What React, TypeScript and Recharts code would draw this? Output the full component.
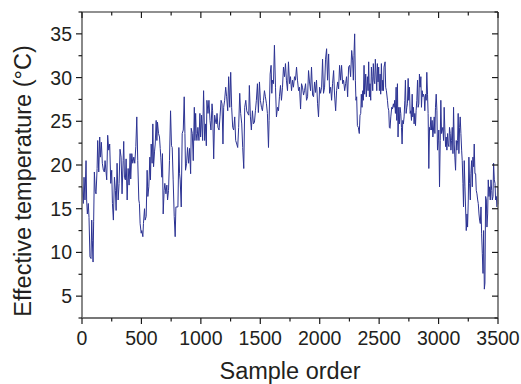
import React from "react";
import { Line, LineChart, XAxis, YAxis } from "recharts";

// readings taken off the trace: [sample order, effective temperature]
const earlySamples: [number, number][] = [
  [0, 17.5], [11, 15.6], [17, 18.6], [25, 16], [34, 20.5], [39, 16], [45, 14.4], [53, 15.6], [59, 14], [67, 9.5],
  [76, 9.3], [82, 13.7], [87, 11.4], [93, 8.9], [98, 13.5], [104, 19.2], [112, 17], [118, 16.7], [127, 19.6], [132, 22.8],
  [141, 19.2], [149, 23.2], [155, 20.9], [163, 22.6], [171, 20.2], [180, 19.4], [188, 19.2], [194, 20.5], [208, 18.3], [216, 23.4],
  [225, 21.7], [233, 22.4], [242, 17.9], [250, 19.4], [256, 15.6], [264, 13.7], [273, 18.6], [281, 17.1], [287, 14.8], [295, 20.2],
  [304, 16], [312, 17.9], [320, 21.8], [329, 20.9], [337, 16.7], [346, 20.5], [351, 22.7], [357, 18.6], [365, 18.3], [371, 20.7],
  [380, 16], [388, 19.6], [396, 17.7], [405, 21.3], [410, 18.4], [419, 21.3], [427, 20.2], [436, 20.9], [444, 20.2], [453, 22.1],
  [461, 25.5], [469, 20.5], [478, 16], [483, 15.6], [489, 13.3], [498, 12.2], [503, 12.5], [512, 11.8], [517, 13.3], [526, 15],
  [531, 13.7], [540, 14.1], [548, 19.4], [554, 16.4], [562, 17.5], [571, 20.9], [576, 18.3], [582, 22.4], [590, 20.2], [596, 24.7],
  [602, 19.8], [610, 21.5], [616, 22.4], [624, 25.1], [630, 22.8], [635, 24.9], [644, 23.6], [652, 23.2], [658, 21.9], [663, 20.9],
  [672, 18.6], [677, 21.3], [683, 14.4], [691, 17.1], [697, 17.9], [706, 16.7], [714, 17.7], [720, 16], [728, 17.1], [736, 20.5],
  [745, 26.2], [753, 22.2], [759, 22], [767, 18.3], [776, 14.1], [784, 11.8], [790, 15.2], [798, 15.2], [807, 15.2], [815, 22],
  [821, 19], [826, 18.3], [835, 15.2], [843, 23.6], [852, 24], [860, 27.8], [866, 23.6], [871, 19.4], [880, 20.2], [888, 22],
  [897, 20.2], [905, 21.9], [914, 19], [919, 24.2], [928, 23.6], [936, 20.5], [945, 26.6], [950, 22.8], [956, 25.9], [961, 23.6],
  [967, 22.8], [975, 24.3], [984, 22.8], [992, 25.9], [998, 23.2], [1006, 25.7], [1015, 22.8], [1023, 28.5], [1032, 22.8],
];

const middleSamples: [number, number][] = [
  [1040, 24.7], [1046, 22.2], [1051, 27.4], [1060, 25.9], [1068, 27.4], [1077, 25.1], [1085, 24], [1094, 27], [1099, 26.2], [1108, 20.7],
  [1116, 25.7], [1125, 24.9], [1130, 24.7], [1136, 25.9], [1144, 24.3], [1153, 24], [1161, 25.5], [1170, 27.4], [1178, 27], [1186, 22.4],
  [1192, 26.6], [1200, 27.4], [1209, 28.9], [1217, 27.8], [1226, 26.2], [1234, 30.1], [1243, 26.6], [1251, 30.6], [1259, 26.6], [1268, 24.3],
  [1276, 24], [1285, 25.5], [1293, 22.8], [1302, 22.4], [1310, 22], [1318, 24.3], [1327, 28.2], [1335, 25.9], [1344, 24.7], [1352, 22],
  [1361, 19.6], [1369, 26.6], [1378, 27.4], [1386, 26.2], [1394, 25.9], [1403, 25.7], [1408, 29.1], [1417, 25.5], [1425, 24], [1434, 26.2],
  [1442, 24.7], [1451, 24.9], [1459, 26.2], [1467, 27.4], [1476, 29.3], [1484, 26], [1493, 29.5], [1501, 27.4], [1510, 26.6], [1518, 26.2],
  [1527, 27.4], [1535, 28.5], [1543, 27.8], [1552, 27], [1560, 25.9], [1569, 22], [1574, 25.1], [1583, 30.4], [1591, 31.4], [1597, 28.2],
  [1602, 29.7], [1611, 29.3], [1619, 33.7], [1628, 28.9], [1636, 25.5], [1645, 26.6], [1653, 26.2], [1661, 27.8], [1670, 29.1], [1678, 27.4],
  [1687, 28.9], [1695, 31.2], [1704, 30.1], [1712, 31.6], [1720, 29.7], [1729, 28.5], [1737, 31.8], [1746, 29.3], [1754, 30.1], [1763, 28.5],
  [1771, 29.7], [1779, 28.9], [1788, 30.1], [1796, 29.7], [1805, 31.2], [1813, 29.7], [1822, 28.5], [1830, 28.9], [1839, 26.4], [1847, 29.3],
  [1855, 28.9], [1864, 28], [1872, 28.5], [1881, 29.3], [1889, 27.4], [1898, 27.8], [1906, 30.8], [1914, 29.5], [1923, 28.5], [1931, 31.2],
  [1940, 28], [1948, 27.8], [1957, 29.5], [1965, 28.3], [1973, 29.7], [1982, 27], [1990, 25.5], [1999, 28.9], [2007, 28.2], [2016, 28.9],
  [2024, 32.1], [2032, 28.2], [2041, 28.9], [2049, 32.1], [2058, 33.3], [2066, 29.7], [2075, 32.7], [2083, 28.2], [2092, 28.9], [2100, 27.4],
  [2108, 29.3], [2117, 30.8], [2125, 28], [2134, 26.2], [2142, 28.5], [2151, 29.5], [2159, 28.7], [2167, 31.4], [2176, 29.7], [2184, 31.4],
  [2193, 29.3], [2201, 29.7], [2210, 28.5], [2218, 29.3], [2226, 30.1], [2235, 27.8], [2243, 31.2], [2252, 31.4],
];

const lateSamples: [number, number][] = [
  [2260, 30.1], [2269, 33.1], [2277, 32], [2283, 29.7], [2288, 32.5], [2294, 35], [2300, 29.7], [2305, 27.4], [2311, 27.8], [2317, 24.5],
  [2325, 24.3], [2333, 23.6], [2339, 25.7], [2345, 25.9], [2350, 28.1], [2356, 26.6], [2362, 28.5], [2367, 27.4], [2373, 31.4], [2378, 28.1],
  [2387, 30.4], [2392, 27.8], [2401, 30.1], [2407, 28.5], [2412, 31.8], [2418, 27.8], [2423, 29.3], [2429, 27.4], [2435, 31.2], [2440, 30.1],
  [2446, 28.5], [2451, 31.6], [2457, 29.7], [2463, 29.3], [2468, 32.1], [2474, 30.4], [2480, 28.5], [2485, 31.6], [2491, 29.5], [2496, 31.2],
  [2502, 28.5], [2508, 30.4], [2513, 28.1], [2519, 31.6], [2525, 28.5], [2530, 29.7], [2536, 28.5], [2541, 31.2], [2550, 31.8], [2555, 28.9],
  [2561, 28.5], [2570, 27.4], [2575, 26.6], [2581, 26.2], [2586, 24.3], [2592, 24.2], [2598, 25.5], [2606, 26.6], [2612, 26.4], [2620, 27],
  [2626, 26.6], [2631, 27.4], [2637, 25.9], [2643, 28.9], [2648, 25.1], [2654, 29.3], [2659, 23.2], [2665, 26.6], [2671, 24.7], [2676, 26.6],
  [2682, 25.9], [2688, 24.3], [2693, 22.4], [2699, 25.1], [2704, 24.7], [2710, 25.5], [2716, 27.4], [2721, 29.7], [2727, 25.9], [2733, 26.6],
  [2738, 27], [2744, 29.9], [2749, 27.4], [2755, 28.9], [2761, 25.9], [2766, 26.2], [2772, 25.1], [2778, 28.1], [2783, 25.5], [2789, 26.6],
  [2794, 24.7], [2800, 25.9], [2806, 24.5], [2811, 26.2], [2817, 27.4], [2823, 29.7], [2828, 26.6], [2834, 27], [2839, 30.4], [2845, 28.9],
  [2851, 30.1], [2856, 26.6], [2862, 28.5], [2868, 27.8], [2873, 28.1], [2879, 27.8], [2884, 26.2], [2890, 28.1], [2896, 27.4], [2901, 30.6],
  [2907, 28.1], [2912, 25.9], [2918, 19.6], [2924, 24.3], [2929, 24], [2935, 25.5], [2941, 24], [2946, 25.1], [2952, 23.2], [2957, 24],
  [2963, 25.5], [2969, 23.6], [2974, 26.6], [2980, 28.1], [2986, 26.2], [2991, 21.7], [2997, 22.8], [3002, 24], [3008, 17.5], [3014, 22.8],
  [3019, 27.4], [3025, 23.6], [3031, 24], [3036, 24.3], [3042, 22.8], [3047, 26.6], [3053, 24], [3059, 22.1], [3064, 23.2], [3070, 21.7],
  [3076, 23.6], [3081, 22.4], [3087, 22.1], [3092, 24.3], [3098, 23.6], [3104, 21.7], [3109, 22.8], [3115, 24.3], [3121, 21.3], [3126, 26.6],
  [3132, 22.4], [3137, 20.9], [3143, 19.4], [3149, 22.8], [3154, 21.7], [3160, 22.8], [3165, 25.9], [3171, 21.3], [3177, 24.3], [3182, 25.5],
  [3188, 23.6], [3194, 21.7], [3199, 20.5], [3205, 17.9], [3210, 15.2], [3216, 20.5], [3222, 17.5], [3227, 15.2], [3233, 12.5], [3239, 14.4],
  [3244, 12.9], [3250, 16], [3255, 20.9], [3261, 17.9], [3267, 16], [3272, 19], [3278, 20.5], [3284, 17.5], [3289, 20.9], [3295, 19.8],
  [3300, 22.4], [3306, 19], [3312, 19], [3317, 17.1], [3323, 16.7], [3329, 16], [3334, 15.6], [3340, 14.4], [3345, 13.7], [3351, 13.3],
  [3357, 15.2], [3362, 12.2], [3368, 9.9], [3374, 7.6], [3379, 12.5], [3385, 5.8], [3390, 6.5], [3396, 16.4], [3402, 16], [3407, 12.9],
  [3413, 14.4], [3418, 18.3], [3424, 16.4], [3430, 17.5], [3435, 16], [3441, 18.3], [3447, 17.1], [3452, 16], [3458, 16.4], [3463, 20.2],
  [3469, 18.3], [3475, 17.9], [3480, 16], [3486, 16.4], [3492, 15.2], [3497, 17.5], [3500, 15.5],
];

const xTicks = [0, 250, 500, 750, 1000, 1250, 1500, 1750, 2000, 2250, 2500, 2750, 3000, 3250, 3500];
const yTicks = [2.5, 5, 7.5, 10, 12.5, 15, 17.5, 20, 22.5, 25, 27.5, 30, 32.5, 35, 37.5];

const data = [...earlySamples, ...middleSamples, ...lateSamples].map(([order, temp]) => ({ order, temp }));

const FONT = "'Liberation Sans', Arial, Helvetica, sans-serif";
const TEXT = "#231f20";
const TICK = "#1a1a1a";
const FRAME = "#6b6b6b";

function BottomTick(props: any) {
  const { x, y, payload } = props;
  const major = payload.value % 500 === 0;
  return (
    <g>
      <line x1={x} x2={x} y1={y} y2={y + (major ? 6 : 3.5)} stroke={TICK} strokeWidth={1.2} />
      {major && (
        <text x={x} y={y + 27} textAnchor="middle" fontSize={19.5} fontFamily={FONT} fill={TEXT}>
          {payload.value}
        </text>
      )}
    </g>
  );
}

// top axis: y is the axis line, ticks point down into the plot
function TopTick(props: any) {
  const { x, y, payload } = props;
  const major = payload.value % 500 === 0;
  return <line x1={x} x2={x} y1={y} y2={y + (major ? 6 : 3.5)} stroke={TICK} strokeWidth={1.2} />;
}

function LeftTick(props: any) {
  const { x, y, payload } = props;
  const major = payload.value % 5 === 0;
  return (
    <g>
      <line x1={x} x2={x - (major ? 6 : 3.5)} y1={y} y2={y} stroke={TICK} strokeWidth={1.2} />
      {major && (
        <text x={x - 10} y={y} dy="0.36em" textAnchor="end" fontSize={19.5} fontFamily={FONT} fill={TEXT}>
          {payload.value}
        </text>
      )}
    </g>
  );
}

// right axis: x is the axis line, ticks point left into the plot
function RightTick(props: any) {
  const { x, y, payload } = props;
  const major = payload.value % 5 === 0;
  return <line x1={x} x2={x - (major ? 6 : 3.5)} y1={y} y2={y} stroke={TICK} strokeWidth={1.2} />;
}

const XTitle = () => (
  <text x={290} y={379} textAnchor="middle" fontSize={23.5} fontFamily={FONT} fill={TEXT}>
    Sample order
  </text>
);

const YTitle = () => (
  <text
    x={23}
    y={181}
    transform="rotate(-90 23 181)"
    textAnchor="middle"
    dominantBaseline="central"
    fontSize={23.5}
    fontFamily={FONT}
    fill={TEXT}
  >
    Effective temperature (°C)
  </text>
);

export default function App() {
  return (
    <div style={{ position: "absolute", left: 0, top: 0, width: 521, height: 384, background: "#fff" }}>
      <LineChart width={521} height={384} data={data} margin={{ top: 0, right: 0, bottom: 0, left: 0 }}>
        <XAxis
          dataKey="order"
          type="number"
          domain={[0, 3500]}
          ticks={xTicks}
          interval={0}
          height={66}
          tickSize={0}
          tickMargin={0}
          tick={<BottomTick />}
          axisLine={{ stroke: "#4a4a4a", strokeWidth: 1.6 }}
          label={<XTitle />}
        />
        <XAxis
          xAxisId="top"
          orientation="top"
          dataKey="order"
          type="number"
          domain={[0, 3500]}
          ticks={xTicks}
          interval={0}
          height={12}
          tickSize={0}
          tickMargin={0}
          tick={<TopTick />}
          axisLine={{ stroke: FRAME, strokeWidth: 1.6 }}
        />
        <YAxis
          type="number"
          domain={[2.5, 37.5]}
          ticks={yTicks}
          interval={0}
          width={82}
          tickSize={0}
          tickMargin={0}
          tick={<LeftTick />}
          axisLine={{ stroke: FRAME, strokeWidth: 1.6 }}
          label={<YTitle />}
        />
        <YAxis
          yAxisId="right"
          orientation="right"
          type="number"
          domain={[2.5, 37.5]}
          ticks={yTicks}
          interval={0}
          width={23}
          tickSize={0}
          tickMargin={0}
          tick={<RightTick />}
          axisLine={{ stroke: FRAME, strokeWidth: 1.6 }}
        />
        <Line
          dataKey="temp"
          type="linear"
          stroke="#2c3393"
          strokeWidth={1}
          dot={false}
          activeDot={false}
          isAnimationActive={false}
        />
        <Line
          xAxisId="top"
          yAxisId="right"
          dataKey="temp"
          stroke="none"
          dot={false}
          activeDot={false}
          legendType="none"
          isAnimationActive={false}
        />
      </LineChart>
    </div>
  );
}
